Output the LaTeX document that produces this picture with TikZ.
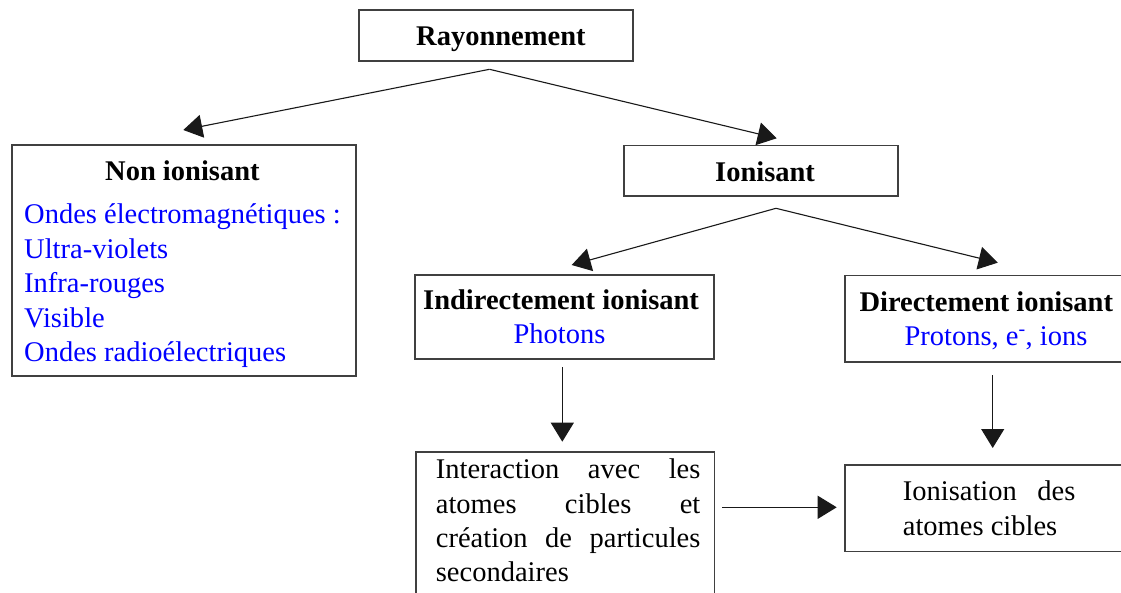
\documentclass[tikz,border=0pt]{standalone}
\usepackage{fontspec}
\setmainfont{Liberation Serif}
\usetikzlibrary{arrows.meta}
\begin{document}
\begin{tikzpicture}[x=1pt,y=-1pt,
  box/.style={draw=black!75, line width=1.1pt, inner sep=0pt},
  txt/.style={inner sep=0pt, anchor=base west, font=\fontsize{28.5}{34}\selectfont},
  btxt/.style={txt, font=\fontsize{28.5}{34}\selectfont\bfseries},
  bluetxt/.style={txt, text=blue},
  arr/.style={draw=black!90, line width=1.1pt, -{Triangle[length=19pt,width=23pt]}}]
\useasboundingbox[fill=white] (0,0) rectangle (1121,593);

% boxes
\node[box, minimum width=274pt, minimum height=51pt] (rayb) at (496,35.5) {};
\node[box, minimum width=344pt, minimum height=231pt] (nonb) at (184,260.5) {};
\node[box, minimum width=274pt, minimum height=50.5pt] (ionb) at (761,170.75) {};
\node[box, minimum width=299pt, minimum height=84pt] (indb) at (564.5,317) {};
\node[box, minimum width=290pt, minimum height=86.5pt] (dirb) at (990,318.75) {};
\node[box, minimum width=298.5pt, minimum height=168pt] (intb) at (565.25,536) {};
\node[box, minimum width=290pt, minimum height=86.5pt] (ionisb) at (990,508.25) {};

% texts
\node[btxt] (rayt) at (416,45.5) {Rayonnement};
\node[btxt] (nont) at (105,181) {Non ionisant};
\node[bluetxt] (non1) at (24,224) {Ondes électromagnétiques :};
\node[bluetxt] (non2) at (24,258.5) {Ultra-violets};
\node[bluetxt] (non3) at (24,293) {Infra-rouges};
\node[bluetxt] (non4) at (24,327) {Visible};
\node[bluetxt] (non5) at (24,361) {Ondes radioélectriques};
\node[btxt] (iont) at (715,181.5) {Ionisant};
\node[btxt] (indt) at (423,310) {Indirectement ionisant};
\node[bluetxt] (ind1) at (513.3,343) {Photons};
\node[btxt] (dirt) at (859.3,311.7) {Directement ionisant};
\node[bluetxt] (dir1) at (904.3,345) {Protons, e\textsuperscript{-}, ions};
\node[txt] (int1) at (435.7,478) {\makebox[264.5pt][s]{Interaction avec les}};
\node[txt] (int2) at (435.7,513) {\makebox[264.5pt][s]{atomes cibles et}};
\node[txt] (int3) at (435.7,547) {\makebox[264.5pt][s]{création de particules}};
\node[txt] (int4) at (435.7,581.7) {secondaires};
\node[txt] (is1) at (902.7,500.7) {\makebox[172.5pt][s]{Ionisation des}};
\node[txt] (is2) at (902.7,535) {atomes cibles};

% connector points
\coordinate (apex1) at (489.5,69.3);
\coordinate (tipnon) at (183.3,130);
\coordinate (tipion) at (776.7,138.3);
\coordinate (apex2) at (776,208.3);
\coordinate (tipind) at (571.7,265);
\coordinate (tipdir) at (997.7,262.7);
\coordinate (v1s) at (562.3,367);
\coordinate (v1e) at (562.3,441.7);
\coordinate (v2s) at (992.7,375);
\coordinate (v2e) at (992.7,448);
\coordinate (hs) at (722.3,507.3);
\coordinate (he) at (836.7,507.3);

\draw[arr] (apex1) -- (tipnon);
\draw[arr] (apex1) -- (tipion);
\draw[arr] (apex2) -- (tipind);
\draw[arr] (apex2) -- (tipdir);
\draw[arr] (v1s) -- (v1e);
\draw[arr] (v2s) -- (v2e);
\draw[arr] (hs) -- (he);
\end{tikzpicture}
\end{document}
